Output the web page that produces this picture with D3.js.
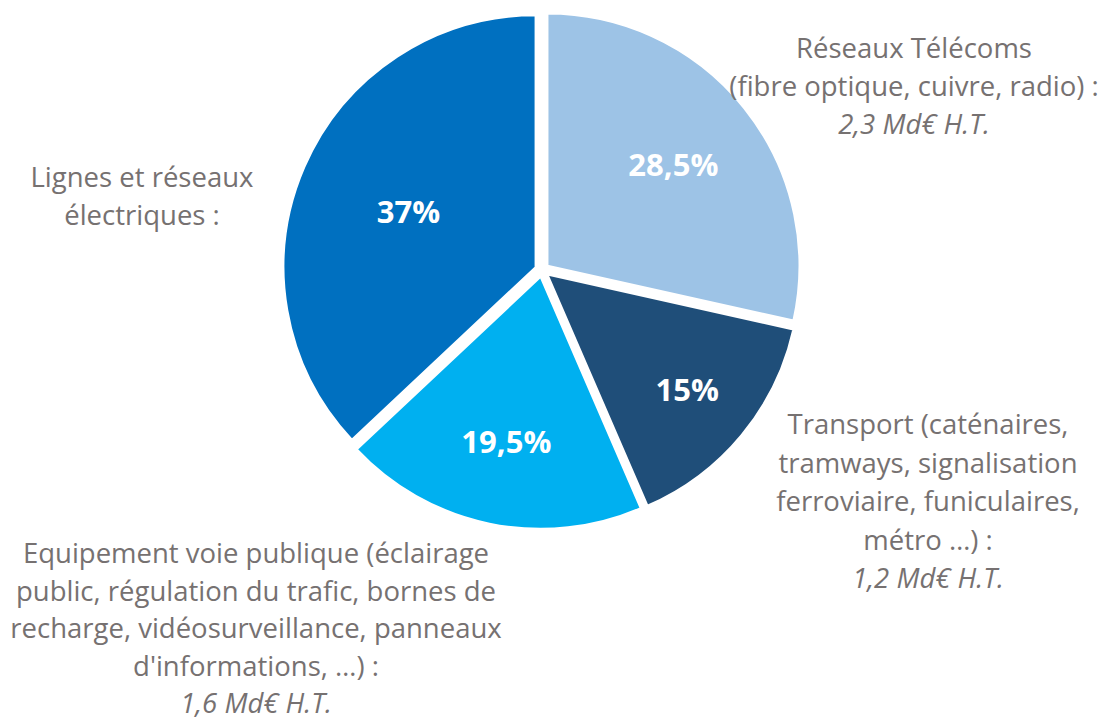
<!DOCTYPE html>
<html>
<head>
<meta charset="utf-8">
<script src="https://cdn.jsdelivr.net/npm/d3@7"></script>
<style>
  body { margin: 0; background: #fff; }
  svg { display: block; }
</style>
</head>
<body>
<div id="chart"></div>
<script>
// données
var categories = ["Réseaux Télécoms", "Transport", "Equipement voie publique", "Lignes et réseaux électriques"];
var shares = [28.5, 15, 19.5, 37];
var shareLabels = ["28,5%", "15%", "19,5%", "37%"];
var amounts = ["2,3 Md€ H.T.", "1,2 Md€ H.T.", "1,6 Md€ H.T.", ""];
var descLines = [
  ["Réseaux Télécoms", "(fibre optique, cuivre, radio) :"],
  ["Transport (caténaires,", "tramways, signalisation", "ferroviaire, funiculaires,", "métro …) :"],
  ["Equipement voie publique (éclairage", "public, régulation du trafic, bornes de", "recharge, vidéosurveillance, panneaux", "d'informations, …) :"],
  ["Lignes et réseaux", "électriques :"]
];

// mise en page
var width = 1112, height = 723;
var cx = 542, cy = 270, radius = 252;
var explode = 7;
var colors = ["#9dc3e6", "#1f4e79", "#00b0f0", "#0070c0"];
var pctRadius = [0.64, 0.72, 0.67, 0.55];
var labelPos = [[914, 58], [928, 434], [256, 563], [142, 187]];
var lineH = [38, 38.5, 37.5, 38];
var fontFamily = "'Open Sans', sans-serif";

var svg = d3.select("#chart")
  .append("svg")
  .attr("width", width)
  .attr("height", height);

var pie = d3.pie().sort(null).value(function(d) { return d; });
var arcs = pie(shares);
var arc = d3.arc().innerRadius(0).outerRadius(radius);

function offset(d, k) {
  var a = (d.startAngle + d.endAngle) / 2;
  return [Math.sin(a) * k, -Math.cos(a) * k];
}

var g = svg.append("g").attr("transform", "translate(" + cx + "," + cy + ")");

var slice = g.selectAll("g.slice")
  .data(arcs)
  .join("g")
  .attr("class", "slice")
  .attr("transform", function(d) {
    var o = offset(d, explode);
    return "translate(" + o[0] + "," + o[1] + ")";
  });

slice.append("path")
  .attr("d", arc)
  .attr("fill", function(d, i) { return colors[i]; })
  .attr("stroke", "#fff")
  .attr("stroke-width", 2);

slice.append("text")
  .attr("transform", function(d, i) {
    var o = offset(d, radius * pctRadius[i]);
    return "translate(" + o[0] + "," + o[1] + ")";
  })
  .attr("dy", "0.35em")
  .attr("text-anchor", "middle")
  .attr("fill", "#fff")
  .attr("font-family", fontFamily)
  .attr("font-weight", "bold")
  .attr("font-size", "31px")
  .text(function(d, i) { return shareLabels[i]; });

// libellés
categories.forEach(function(c, i) {
  var lines = descLines[i].map(function(t) { return { t: t, it: false }; });
  if (amounts[i]) lines.push({ t: amounts[i], it: true });
  var txt = svg.append("text")
    .attr("x", labelPos[i][0])
    .attr("y", labelPos[i][1])
    .attr("text-anchor", "middle")
    .attr("fill", "#767171")
    .attr("font-family", fontFamily)
    .attr("font-size", "27.5px");
  txt.selectAll("tspan")
    .data(lines)
    .join("tspan")
    .attr("x", labelPos[i][0])
    .attr("dy", function(d, j) { return j == 0 ? 0 : lineH[i]; })
    .attr("font-style", function(d) { return d.it ? "italic" : null; })
    .text(function(d) { return d.t; });
});
</script>
</body>
</html>
